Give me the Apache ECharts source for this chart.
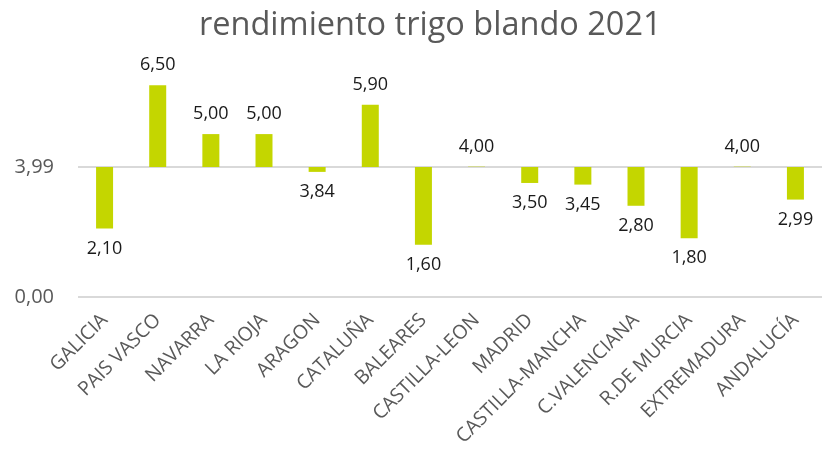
<!DOCTYPE html>
<html>
<head>
<meta charset="utf-8">
<script src="https://cdn.jsdelivr.net/npm/echarts@6/dist/echarts.min.js"></script>
<style>
  html, body { margin: 0; padding: 0; background: #fff; }
  #chart { width: 838px; height: 463px; }
</style>
</head>
<body>
<div id="chart"></div>
<script>
  var regiones = ['GALICIA', 'PAIS VASCO', 'NAVARRA', 'LA RIOJA', 'ARAGON', 'CATALUÑA', 'BALEARES',
    'CASTILLA-LEON', 'MADRID', 'CASTILLA-MANCHA', 'C.VALENCIANA', 'R.DE MURCIA', 'EXTREMADURA', 'ANDALUCÍA'];
  var rendimiento = [2.10, 6.50, 5.00, 5.00, 3.84, 5.90, 1.60, 4.00, 3.50, 3.45, 2.80, 1.80, 4.00, 2.99];
  var media = 3.99;

  // base invisible + tramo visible entre la media y el valor
  var base = rendimiento.map(function (v) { return Math.min(v, media); });
  var tramo = rendimiento.map(function (v, i) {
    return {
      value: Math.abs(v - media),
      label: { position: v >= media ? 'top' : 'bottom' }
    };
  });

  function coma(v) { return v.toFixed(2).replace('.', ','); }

  var chart = echarts.init(document.getElementById('chart'));
  var option = {
    animation: false,
    textStyle: { fontFamily: 'Open Sans' },
    title: {
      text: 'rendimiento trigo blando 2021',
      left: 194,
      top: 4,
      textStyle: { fontFamily: 'Open Sans', fontSize: 32.5, fontWeight: 'normal', color: '#595959' }
    },
    grid: { left: 78, right: 16, top: 37, bottom: 166 },
    xAxis: {
      type: 'category',
      data: regiones,
      axisLine: { show: false },
      axisTick: { show: false },
      axisLabel: { rotate: 45, interval: 0, fontSize: 19.5, color: '#595959', margin: 20 }
    },
    yAxis: {
      type: 'value',
      min: 0,
      max: media * 2,
      interval: media,
      axisLine: { show: false },
      axisTick: { show: false },
      axisLabel: {
        fontSize: 20, color: '#595959', margin: 24, showMaxLabel: false,
        formatter: function (v) { return coma(v); }
      },
      splitLine: { showMaxLine: false, lineStyle: { color: '#d9d9d9', width: 2 } }
    },
    series: [{
      type: 'bar',
      stack: 'r',
      data: base,
      barWidth: 17,
      itemStyle: { color: 'transparent' },
      silent: true
    }, {
      type: 'bar',
      stack: 'r',
      data: tramo,
      barWidth: 17,
      itemStyle: { color: '#c4d600' },
      label: {
        show: true,
        distance: 11,
        fontSize: 18,
        color: '#1a1a1a',
        formatter: function (p) { return coma(rendimiento[p.dataIndex]); }
      }
    }]
  };
  chart.setOption(option);
</script>
</body>
</html>
